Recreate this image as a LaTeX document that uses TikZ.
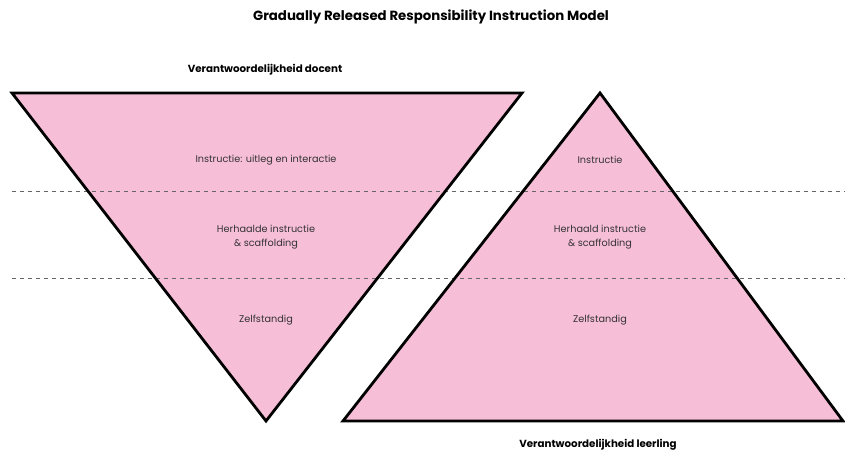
\documentclass[tikz,border=0pt]{standalone}
\usepackage{fontspec}
\setmainfont{Poppins}
\usepackage{tikz}
\usetikzlibrary{calc}

\definecolor{roze}{HTML}{F7BED8}
\definecolor{tekst}{HTML}{333333}

\tikzset{
	laag/.style={font=\fontsize{9.7}{14.5}\selectfont, text=tekst, align=center},
	kop/.style={font=\bfseries\fontsize{10.3}{12}\selectfont, text=black},
	lijn/.style={dashed, dash pattern=on 4pt off 4pt, draw=black!60, line width=1pt},
	rand/.style={draw=black, line width=2.8pt, line join=miter}
}

\begin{document}
\begin{tikzpicture}[x=1pt,y=-1pt]
\useasboundingbox (0,0) rectangle (845,454);

% hoekpunten
\coordinate (dl) at (12,93);
\coordinate (dr) at (522,93);
\coordinate (dp) at (266,421);
\coordinate (ll) at (343,421);
\coordinate (lr) at (843,421);
\coordinate (lp) at (600,93);

\fill[roze] (dl) -- (dr) -- (dp) -- cycle;
\fill[roze] (ll) -- (lr) -- (lp) -- cycle;

\foreach \y in {192,278}  {
	\draw[lijn] (12,\y) -- (845,\y);
}

\draw[rand] (dl) -- (dr) -- (dp) -- cycle;
\draw[rand] (ll) -- (lr) -- (lp) -- cycle;

\node[kop, font=\bfseries\fontsize{13.3}{15}\selectfont] (titel) at (431,17) {Gradually Released Responsibility Instruction Model};
\node[kop] (docent) at (265,70) {Verantwoordelijkheid docent};
\node[kop] (leerling) at (598,445) {Verantwoordelijkheid leerling};

\node[laag] (d1) at (266,160) {Instructie: uitleg en interactie};
\node[laag] (d2) at (266,237) {Herhaalde instructie\\ \& scaffolding};
\node[laag] (d3) at (266,320) {Zelfstandig};

\node[laag] (l1) at (600,160) {Instructie};
\node[laag] (l2) at (600,237) {Herhaald instructie\\ \& scaffolding};
\node[laag] (l3) at (600,320) {Zelfstandig};

\end{tikzpicture}
\end{document}
